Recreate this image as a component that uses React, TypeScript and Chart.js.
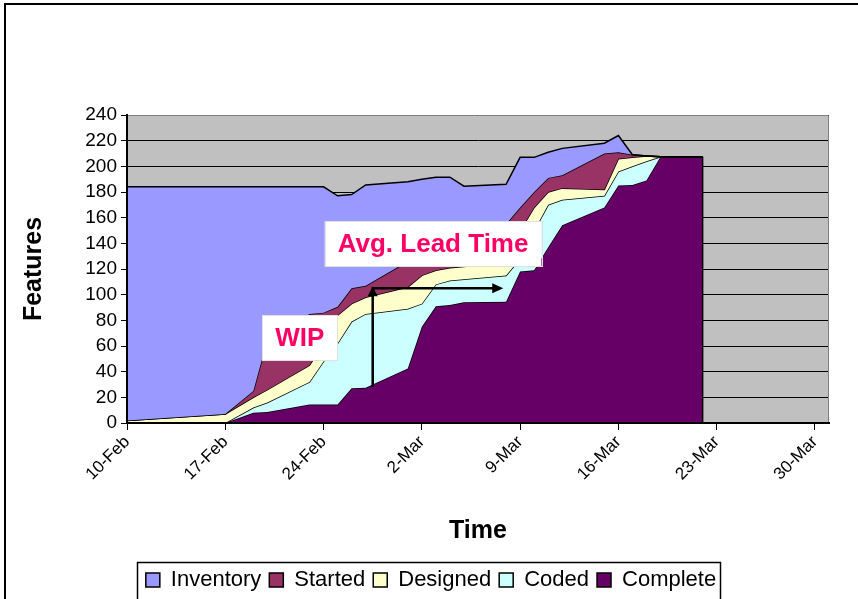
import { useEffect, useRef } from 'react';
import { Chart, registerables } from 'chart.js';

Chart.register(...registerables);

// ---------- data ----------
const dates = ['10-Feb', '17-Feb', '19-Feb', '20-Feb', '23-Feb', '24-Feb', '25-Feb', '26-Feb', '27-Feb', '1-Mar', '2-Mar', '3-Mar', '4-Mar', '5-Mar', '8-Mar', '9-Mar', '10-Mar', '11-Mar', '12-Mar', '15-Mar', '16-Mar', '17-Mar', '18-Mar', '19-Mar', '22-Mar'];
const inventory = [184, 184, 184, 184, 184, 184, 177, 178, 185.5, 188, 190, 191.5, 191.5, 184.5, 186, 207, 207, 211, 214, 218, 224, 209, 208, 207.5, 207.5];
const started = [2, 7, 25, 65, 85, 86, 90.5, 105, 107, 126, 131, 136, 140, 144, 155, 168, 180, 191, 193, 210, 211, 209, 208, 207.5, 207.5];
const designed = [2, 7, 20, 26, 45, 62, 84, 93, 98, 106, 115, 119, 121, 122, 126, 150, 168, 180, 183, 182, 206, 207, 208, 207.5, 207.5];
const coded = [0, 0, 12, 16, 32, 48, 62, 79, 85, 89, 93, 108, 111, 112, 115, 128, 150, 170, 174, 177, 196, 200, 204, 207.5, 207.5];
const complete = [0, 0, 8, 8.5, 14.5, 14.5, 14.5, 27, 27.5, 42.5, 75, 91, 92, 94, 94.5, 118, 119, 137, 154, 168, 185, 185.5, 189, 207.5, 207.5];

const tickLabels = ['10-Feb', '17-Feb', '24-Feb', '2-Mar', '9-Mar', '16-Mar', '23-Mar', '30-Mar'];
const axisStart = '10-Feb';
const axisEnd = '31-Mar';
const yMax = 240;
const yStep = 20;

// annotations: [date position, value]
const wipLabel = { text: 'WIP', at: 12.3, value: 66.5 };
const leadLabel = { text: 'Avg. Lead Time', at: 21.8, value: 139.5 };
const leadArrowUp = { at: 17.5, from: 28, to: 106.5 };
const leadArrowRight = { from: 17.5, to: 26.8, value: 105 };

const YEAR = 2004;
const MONTHS: Record<string, number> = { Jan: 0, Feb: 1, Mar: 2, Apr: 3 };
function dayOffset(label: string): number {
  const [d, m] = label.split('-');
  const [d0, m0] = axisStart.split('-');
  return (Date.UTC(YEAR, MONTHS[m], +d) - Date.UTC(YEAR, MONTHS[m0], +d0)) / 86400000;
}

const series = [
  { label: 'Inventory', values: inventory, color: '#9999FF', fill: '+1' },
  { label: 'Started', values: started, color: '#993366', fill: '+1' },
  { label: 'Designed', values: designed, color: '#FFFFCC', fill: '+1' },
  { label: 'Coded', values: coded, color: '#CCFFFF', fill: '+1' },
  { label: 'Complete', values: complete, color: '#660066', fill: 'origin' },
];

const FONT = 'Arial, "Liberation Sans", sans-serif';

const decor = {
  id: 'decor',
  afterLayout(chart: any) {
    const lg = chart.legend;
    if (lg) {
      lg.left += 7;
      lg.right += 7;
      lg.top += 2;
      lg.bottom += 2;
    }
  },
  beforeDraw(chart: any) {
    const { ctx, chartArea: a } = chart;
    ctx.save();
    ctx.fillStyle = '#C0C0C0';
    ctx.fillRect(a.left, a.top, a.right - a.left, a.bottom - a.top);
    ctx.strokeStyle = '#000';
    ctx.lineWidth = 2;
    ctx.strokeRect(5, 4, 1000, 1000);
    ctx.restore();
  },
  afterDatasetsDraw(chart: any) {
    const { ctx, chartArea: a, scales } = chart;
    const xs = scales.x;
    const ys = scales.y;
    ctx.save();
    // closing edge of the last area
    const meta = chart.getDatasetMeta(series.length - 1);
    const last = meta.data[meta.data.length - 1];
    ctx.strokeStyle = '#000';
    ctx.lineWidth = 1.5;
    ctx.beginPath();
    ctx.moveTo(last.x, last.y);
    ctx.lineTo(last.x, ys.getPixelForValue(0));
    ctx.stroke();
    // plot frame
    ctx.strokeStyle = '#808080';
    ctx.lineWidth = 1;
    ctx.beginPath();
    ctx.moveTo(a.left, a.top + 0.5);
    ctx.lineTo(a.right - 0.5, a.top + 0.5);
    ctx.lineTo(a.right - 0.5, a.bottom);
    ctx.stroke();
    ctx.strokeStyle = '#000';
    ctx.lineWidth = 2;
    ctx.beginPath();
    ctx.moveTo(a.left, a.top);
    ctx.lineTo(a.left, a.bottom);
    ctx.lineTo(a.right, a.bottom);
    ctx.stroke();

    // labels
    const drawLabel = (lab: { text: string; at: number; value: number }) => {
      ctx.font = `bold 26px ${FONT}`;
      const w = ctx.measureText(lab.text).width + 26;
      const h = 45;
      const cx = xs.getPixelForValue(lab.at);
      const cy = ys.getPixelForValue(lab.value);
      ctx.fillStyle = '#FFFFFF';
      ctx.fillRect(cx - w / 2, cy - h / 2, w, h);
      ctx.strokeStyle = '#E0E0E0';
      ctx.lineWidth = 1;
      ctx.strokeRect(Math.round(cx - w / 2) + 0.5, Math.round(cy - h / 2) + 0.5, Math.round(w), h);
      ctx.fillStyle = '#FF0066';
      ctx.textAlign = 'center';
      ctx.textBaseline = 'middle';
      ctx.fillText(lab.text, cx, cy + 1);
    };
    drawLabel(wipLabel);
    drawLabel(leadLabel);

    // arrows
    ctx.strokeStyle = '#000';
    ctx.fillStyle = '#000';
    ctx.lineWidth = 2.5;
    const ax = xs.getPixelForValue(leadArrowUp.at);
    const ay0 = ys.getPixelForValue(leadArrowUp.from);
    const ay1 = ys.getPixelForValue(leadArrowUp.to);
    ctx.beginPath();
    ctx.moveTo(ax, ay0);
    ctx.lineTo(ax, ay1 + 8);
    ctx.stroke();
    ctx.beginPath();
    ctx.moveTo(ax, ay1);
    ctx.lineTo(ax - 5, ay1 + 10);
    ctx.lineTo(ax + 5, ay1 + 10);
    ctx.closePath();
    ctx.fill();
    const hy = ys.getPixelForValue(leadArrowRight.value);
    const hx0 = xs.getPixelForValue(leadArrowRight.from);
    const hx1 = xs.getPixelForValue(leadArrowRight.to);
    ctx.beginPath();
    ctx.moveTo(hx0 - 1, hy);
    ctx.lineTo(hx1 - 8, hy);
    ctx.stroke();
    ctx.beginPath();
    ctx.moveTo(hx1, hy);
    ctx.lineTo(hx1 - 11, hy - 5);
    ctx.lineTo(hx1 - 11, hy + 5);
    ctx.closePath();
    ctx.fill();
    ctx.restore();
  },
  afterDraw(chart: any) {
    const lg = chart.legend;
    const hb = lg.legendHitBoxes;
    if (!hb || !hb.length) return;
    const { ctx } = chart;
    const first = hb[0];
    const lastB = hb[hb.length - 1];
    const cy = first.top + first.height / 2;
    ctx.save();
    ctx.strokeStyle = '#000';
    ctx.lineWidth = 1.5;
    ctx.strokeRect(Math.round(first.left - 9) + 0.5, Math.round(cy - 18) + 0.5, Math.round(lastB.left + lastB.width - first.left + 13), 60);
    ctx.restore();
  },
};

export default function App() {
  const ref = useRef<HTMLCanvasElement>(null);
  useEffect(() => {
    const xVals = dates.map(dayOffset);
    const chart = new Chart(ref.current!, {
      type: 'line',
      data: {
        datasets: series.map((s) => ({
          label: s.label,
          data: s.values.map((v, i) => ({ x: xVals[i], y: v })),
          backgroundColor: s.color,
          borderColor: '#000',
          borderWidth: 1.5,
          pointRadius: 0,
          tension: 0,
          fill: s.fill,
        })),
      },
      options: {
        responsive: false,
        animation: false,
        layout: { padding: { left: 19, top: 115, right: 29, bottom: 0 } },
        plugins: {
          tooltip: { enabled: false },
          legend: {
            position: 'bottom',
            labels: {
              boxWidth: 14,
              boxHeight: 14,
              padding: 8,
              color: '#000',
              font: { family: FONT, size: 22 },
            },
          },
        },
        scales: {
          x: {
            type: 'linear',
            min: dayOffset(axisStart),
            max: dayOffset(axisEnd),
            afterBuildTicks: (scale: any) => {
              scale.ticks = tickLabels.map((l) => ({ value: dayOffset(l) }));
            },
            afterFit: (scale: any) => {
              scale.height = 136;
            },
            ticks: {
              autoSkip: false,
              minRotation: 45,
              maxRotation: 45,
              padding: 2,
              color: '#000',
              font: { family: FONT, size: 17 },
              callback: (_v: any, i: number) => tickLabels[i],
            },
            grid: { drawOnChartArea: false, drawTicks: true, tickLength: 7, color: '#000', lineWidth: 1 },
            border: { color: '#000', width: 2 },
            title: {
              display: true,
              text: 'Time',
              color: '#000',
              font: { family: FONT, size: 25, weight: 'bold' },
              padding: { top: 0, bottom: 13 },
            },
          },
          y: {
            min: 0,
            max: yMax,
            afterFit: (scale: any) => {
              scale.width = 108;
            },
            ticks: {
              stepSize: yStep,
              autoSkip: false,
              padding: 4,
              color: '#000',
              font: { family: FONT, size: 19 },
            },
            grid: { color: '#000', lineWidth: 1, tickLength: 6, drawTicks: true },
            border: { color: '#000', width: 2 },
            title: {
              display: true,
              text: 'Features',
              color: '#000',
              font: { family: FONT, size: 25, weight: 'bold' },
              padding: { top: 0, bottom: 0 },
            },
          },
        },
      } as any,
      plugins: [decor],
    });
    return () => chart.destroy();
  }, []);
  return (
    <div style={{ position: 'fixed', left: 0, top: 0, width: 858, height: 599, overflow: 'hidden', background: '#fff' }}>
      <canvas ref={ref} width={858} height={599} style={{ display: 'block', width: 858, height: 599 }} />
    </div>
  );
}
